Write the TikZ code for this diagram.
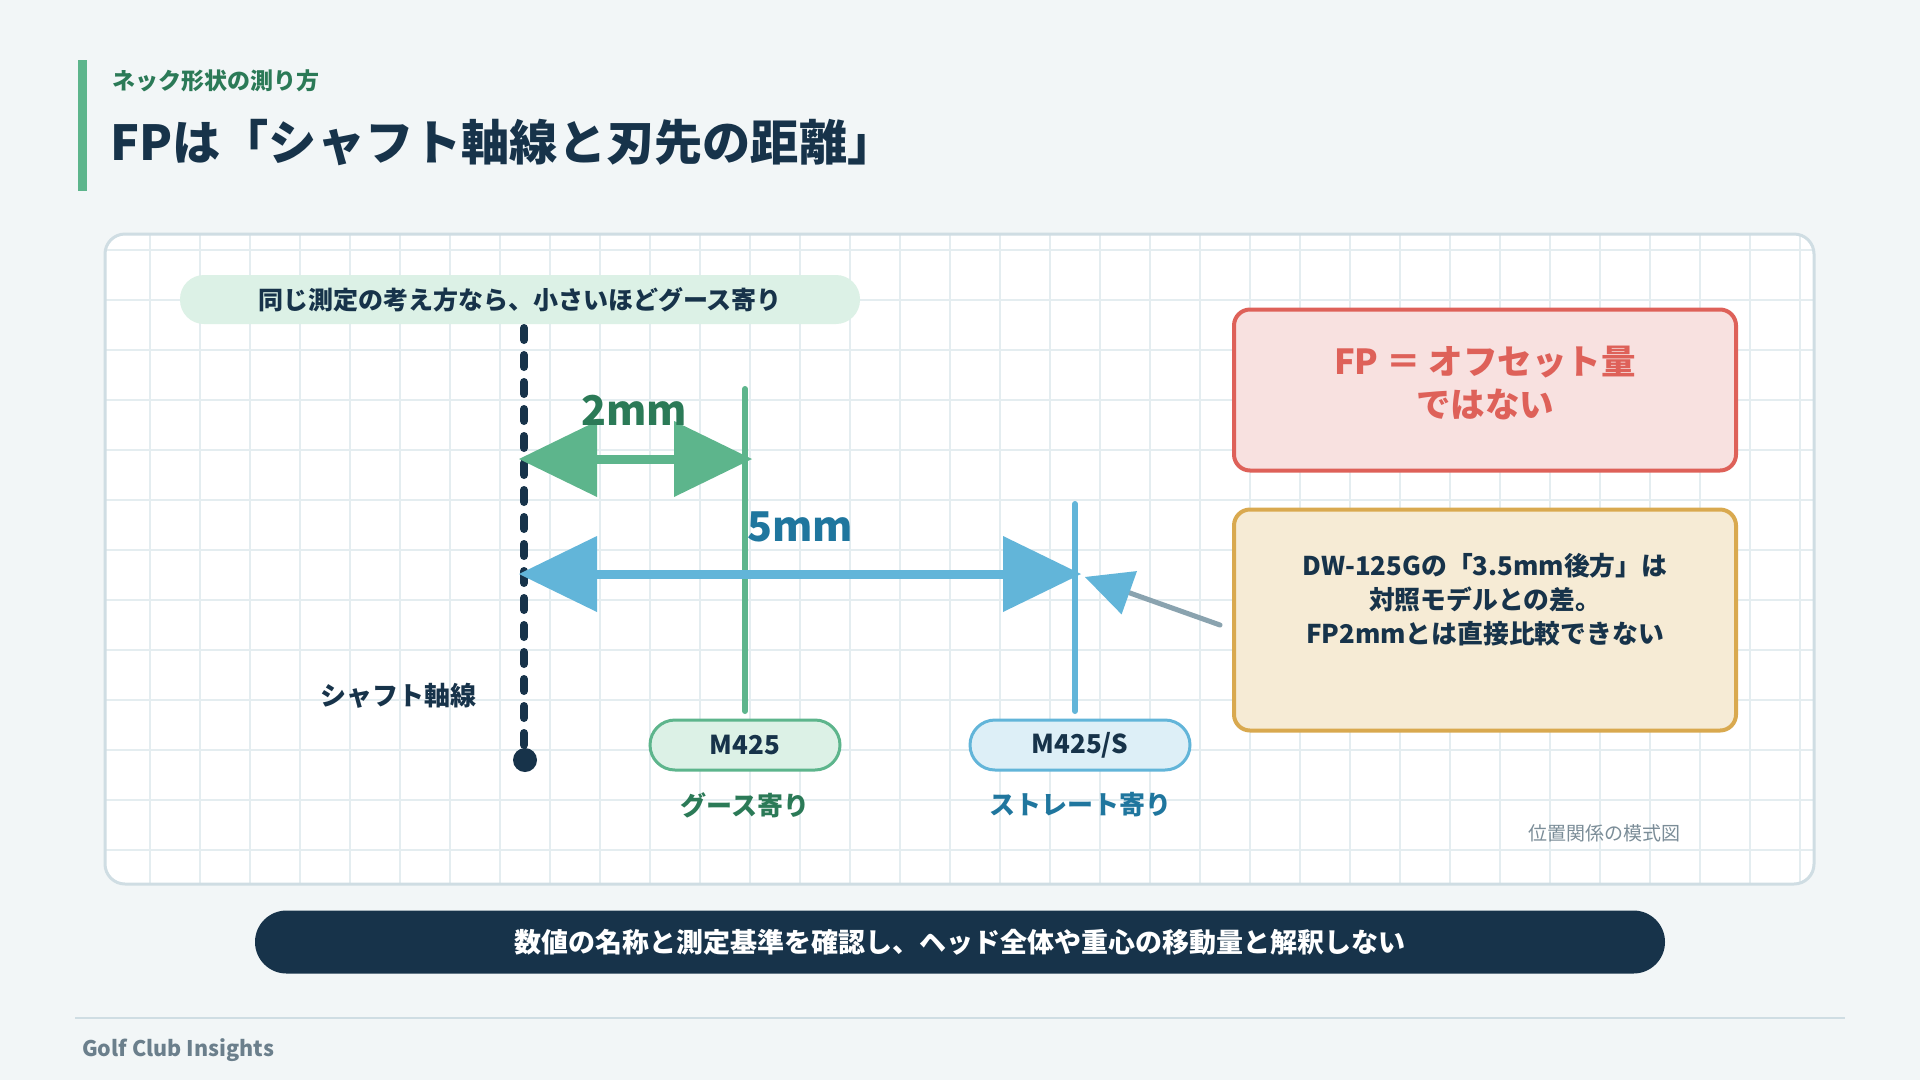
\documentclass[tikz,border=0pt]{standalone}
\usepackage{fontspec}
\setmainfont{Noto Sans CJK JP}
\usetikzlibrary{arrows.meta}
\definecolor{bgc}{HTML}{F2F6F7}
\definecolor{navy}{HTML}{17334A}
\definecolor{greenacc}{HTML}{5DB58C}
\definecolor{greentxt}{HTML}{2B7A57}
\definecolor{blueacc}{HTML}{62B5D9}
\definecolor{bluetxt}{HTML}{1F769E}
\definecolor{mint}{HTML}{DCF1E6}
\definecolor{lightblue}{HTML}{DDEFF7}
\definecolor{redc}{HTML}{DE6159}
\definecolor{redfill}{HTML}{F8E1E0}
\definecolor{goldc}{HTML}{D9A94F}
\definecolor{goldfill}{HTML}{F6EBD5}
\definecolor{gridc}{HTML}{E4EDF0}
\definecolor{panelc}{HTML}{CFDDE3}
\definecolor{ptrc}{HTML}{8AA3AF}
\definecolor{greyt}{HTML}{6B7F8C}
\definecolor{greyt2}{HTML}{7B8D98}
\tikzset{
  gridline/.style={draw=gridc, line width=1.4pt},
  tagpill/.style={draw, line width=3pt, rounded corners=25pt, minimum width=#1, minimum height=50pt, inner sep=0pt, text=navy, font=\bfseries\fontsize{26}{30}\selectfont},
  calloutbox/.style={line width=4pt, rounded corners=16pt, minimum width=502pt, inner sep=0pt},
  dimarrow/.style={line width=9pt, {Triangle[length=78pt,width=76pt,line width=0pt]}-{Triangle[length=78pt,width=76pt,line width=0pt]}},
  marker/.style={line width=6pt, line cap=round},
  lbl/.style={inner sep=0pt},
}
\begin{document}
\begin{tikzpicture}[x=1pt,y=-1pt]
\fill[bgc] (0,0) rectangle (1920,1080);
\useasboundingbox (0,0) rectangle (1920,1080);

% header
\fill[greenacc] (78,60) rectangle (87,191);
\node[lbl, anchor=west, text=greentxt, font=\bfseries\fontsize{23}{28}\selectfont] (sub) at (112,81) {ネック形状の測り方};
\node[lbl, anchor=west, text=navy, font=\bfseries\fontsize{48.2}{56}\selectfont] (title) at (110,143) {FPは「シャフト軸線と刃先の距離」};

% panel
\fill[white, rounded corners=20pt] (105,234) rectangle (1814,884);
\begin{scope}
\clip[rounded corners=20pt] (105,234) rectangle (1814,884);
\foreach \x in {150,200,...,1800} \draw[gridline] (\x,234) -- (\x,884);
\foreach \y in {250,300,...,850} \draw[gridline] (105,\y) -- (1814,\y);
\end{scope}
\draw[panelc, line width=3pt, rounded corners=20pt] (105,234) rectangle (1814,884);

% top note
\node[fill=mint, rounded corners=24pt, minimum width=680pt, minimum height=49pt, inner sep=0pt, text=navy, font=\bfseries\fontsize{25}{30}\selectfont] (note) at (520,299.5) {同じ測定の考え方なら、小さいほどグース寄り};

% coordinates
\coordinate (axisTop) at (524,328);
\coordinate (axisBot) at (524,748);
\coordinate (gTop) at (745,389);
\coordinate (gBot) at (745,711);
\coordinate (bTop) at (1075,504);
\coordinate (bBot) at (1075,711);
\coordinate (gL) at (519,459);
\coordinate (gR) at (752,459);
\coordinate (bL) at (519,574);
\coordinate (bR) at (1081,574);
\coordinate (ptrS) at (1220,625);
\coordinate (ptrE) at (1085,577);

% shaft axis
\draw[navy, line width=8pt, line cap=round, dash pattern=on 12pt off 15pt] (axisTop) -- (axisBot);
\fill[navy] (525,760) circle (12pt);
\node[lbl, text=navy, font=\bfseries\fontsize{26}{30}\selectfont] (axislbl) at (398,696) {シャフト軸線};

% marker lines
\draw[marker, greenacc] (gTop) -- (gBot);
\draw[marker, blueacc] (bTop) -- (bBot);

% dimension arrows
\draw[dimarrow, greenacc] (gL) -- (gR);
\draw[dimarrow, blueacc] (bL) -- (bR);
\node[lbl, text=greentxt, font=\bfseries\fontsize{41}{48}\selectfont] (twomm) at (634,410) {2mm};
\node[lbl, text=bluetxt, font=\bfseries\fontsize{41}{48}\selectfont] (fivemm) at (800,527) {5mm};

% pills
\node[tagpill=190pt, fill=mint, draw=greenacc] (m425) at (745,745) {M425};
\node[tagpill=220pt, fill=lightblue, draw=blueacc] (m425s) at (1080,745) {M425/S};
\node[lbl, text=greentxt, font=\bfseries\fontsize{26}{30}\selectfont] (goose) at (745,805) {グース寄り};
\node[lbl, text=bluetxt, font=\bfseries\fontsize{26}{30}\selectfont] (straight) at (1080,805) {ストレート寄り};

% callouts
\node[calloutbox, draw=redc, fill=redfill, minimum height=161pt] (redbox) at (1485,390) {};
\node[lbl, text=redc, align=center, font=\bfseries\fontsize{34.5}{43}\selectfont] (redtxt) at (1485,383.5) {FP ＝ オフセット量\\ではない};
\node[calloutbox, draw=goldc, fill=goldfill, minimum height=221pt] (goldbox) at (1485,620) {};
\node[lbl, text=navy, align=center, font=\bfseries\fontsize{25.8}{34}\selectfont] (goldtxt) at (1485,600) {DW-125Gの「3.5mm後方」は\\対照モデルとの差。\\FP2mmとは直接比較できない};

% pointer
\draw[ptrc, line width=5pt, line cap=round, -{Triangle[length=47pt,width=46pt,line width=0pt,color=blueacc]}] (ptrS) -- (ptrE);

\node[lbl, text=greyt2, font=\fontsize{19}{22}\selectfont] (schem) at (1604,833) {位置関係の模式図};

% banner
\node[fill=navy, rounded corners=31.5pt, minimum width=1410pt, minimum height=63pt, inner sep=0pt, text=white, font=\bfseries\fontsize{27}{32}\selectfont] (banner) at (960,942) {数値の名称と測定基準を確認し、ヘッド全体や重心の移動量と解釈しない};

% footer
\draw[panelc, line width=2.5pt] (75,1018) -- (1845,1018);
\node[lbl, anchor=west, text=greyt, font=\bfseries\fontsize{21.5}{26}\selectfont] (brand) at (82,1050) {Golf Club Insights};
\end{tikzpicture}
\end{document}
